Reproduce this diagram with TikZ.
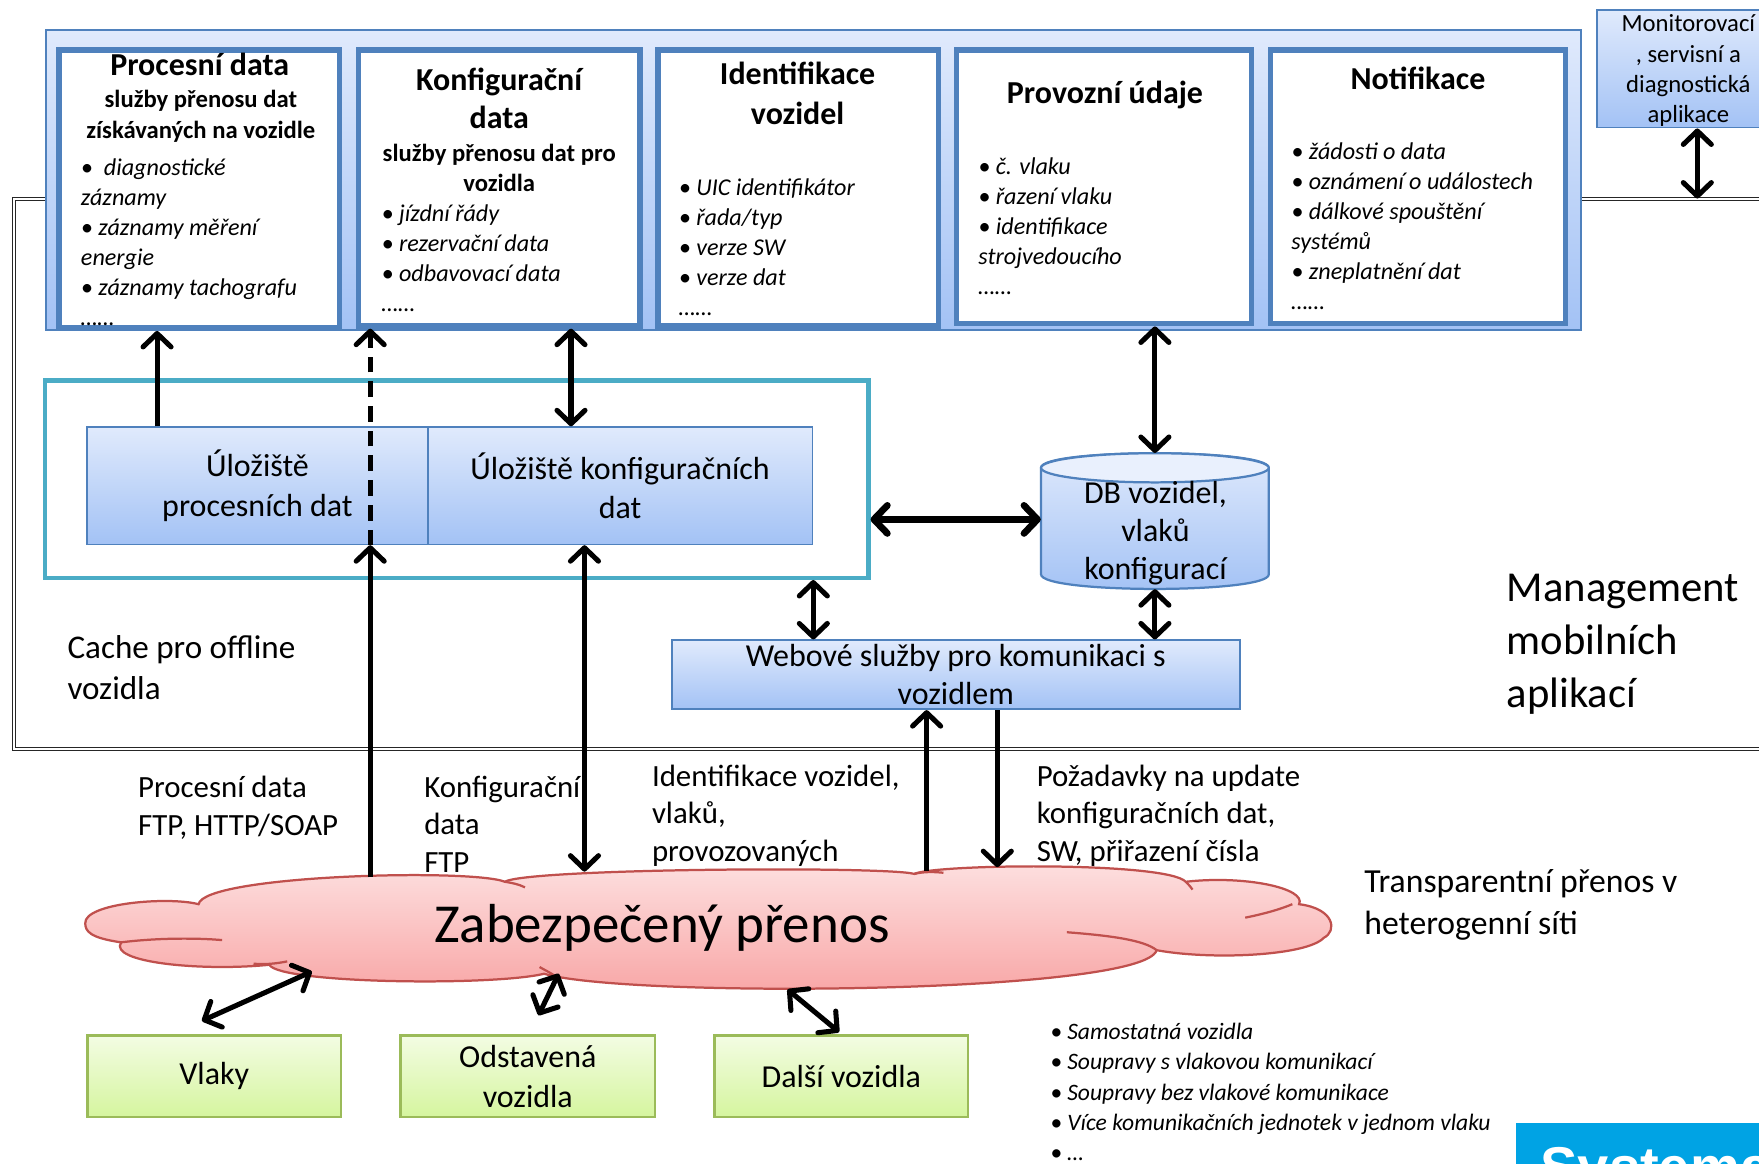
\documentclass[tikz,border=0pt]{standalone}
\usepackage{fontspec}
\setmainfont{Carlito}
\newfontfamily\logofont{Liberation Sans}
\usetikzlibrary{arrows.meta,calc}
\definecolor{bxb}{RGB}{79,129,189}
\definecolor{gtop}{RGB}{224,234,252}
\definecolor{gbot}{RGB}{163,194,245}
\definecolor{cachec}{RGB}{75,172,198}
\definecolor{cltop}{RGB}{253,224,224}
\definecolor{clbot}{RGB}{248,164,164}
\definecolor{clb}{RGB}{192,80,77}
\definecolor{grtop}{RGB}{243,252,227}
\definecolor{grbot}{RGB}{213,245,158}
\definecolor{grb}{RGB}{155,187,89}
\definecolor{logoc}{RGB}{0,163,228}
\newcommand\fsz[2]{\fontsize{#1pt}{#2pt}\selectfont}
\begin{document}
\begin{tikzpicture}[x=1pt,y=-1pt,
  blk/.style={draw=bxb, line width=1.5pt, top color=gtop, bottom color=gbot, inner sep=0, anchor=north west},
  wbox/.style={draw=bxb, line width=5pt, fill=white, inner sep=0, anchor=north west},
  grbox/.style={draw=grb, line width=2pt, top color=grtop, bottom color=grbot, inner sep=0, anchor=north west, align=center, font=\fsz{28.5}{35}},
  lbl/.style={anchor=north west, inner sep=0, align=left, font=\fsz{27.5}{33.5}},
  ttl/.style={anchor=north, inner sep=0, align=center, font=\fsz{28.5}{34.5}\bfseries},
  subt/.style={anchor=north, inner sep=0, align=center, font=\fsz{22}{27.5}\bfseries},
  itl/.style={anchor=north west, inner sep=0, align=left, font=\fsz{21.5}{26.8}\itshape},
  conn/.style={line width=4.5pt, >={Straight Barb[length=12pt,width=25pt,round]}},
  cloudarc/.style={draw=clb, line width=2pt}
]
\useasboundingbox (0,0) rectangle (1568,1037);
\begin{scope}
\clip (0,0) rectangle (1568,1037);
\fill[white] (0,0) rectangle (1568,1037);

% management frame (double line)
\node[draw=black!85, double=white, double distance=1.6pt, line width=1.2pt, minimum width=1640pt, minimum height=490pt, anchor=north west, inner sep=0] (frame) at (12,177) {};

% top panel and boxes
\node[blk, line width=2pt, minimum width=1368pt, minimum height=267pt] (panel) at (40,26) {};
\node[wbox, minimum width=250pt, minimum height=248pt] (b1) at (50,42) {};
\node[wbox, minimum width=251pt, minimum height=246pt] (b2) at (317,42) {};
\node[wbox, minimum width=250pt, minimum height=246pt] (b3) at (584,42) {};
\node[wbox, minimum width=263pt, minimum height=244pt] (b4) at (850,42) {};
\node[wbox, minimum width=263pt, minimum height=244pt] (b5) at (1130,42) {};

\node[ttl] (t1) at (178,47.5) {Procesní data};
\node[subt] (s1) at (179,80) {služby přenosu dat\\získávaných na vozidle};
\node[itl] (i1) at (72,141) {\textbullet\ \ diagnostické\\záznamy\\\textbullet\ záznamy měření\\energie\\\textbullet\ záznamy tachografu\\……};

\node[ttl] (t2) at (445,60) {Konfigurační\\data};
\node[subt] (s2) at (445,128) {služby přenosu dat pro\\vozidla};
\node[itl] (i2) at (340,182) {\textbullet\ jízdní řády\\\textbullet\ rezervační data\\\textbullet\ odbavovací data\\……};

\node[ttl, font=\fsz{28.5}{35}\bfseries] (t3) at (711,55.5) {Identifikace\\vozidel};
\node[itl] (i3) at (605,159) {\textbullet\ UIC identifikátor\\\textbullet\ řada/typ\\\textbullet\ verze SW\\\textbullet\ verze dat\\……};

\node[ttl] (t4) at (985,72.5) {Provozní údaje};
\node[itl] (i4) at (872,140) {\textbullet\ č. vlaku\\\textbullet\ řazení vlaku\\\textbullet\ identifikace\\strojvedoucího\\……};

\node[ttl] (t5) at (1264,59.5) {Notifikace};
\node[itl] (i5) at (1151,127) {\textbullet\ žádosti o data\\\textbullet\ oznámení o událostech\\\textbullet\ dálkové spouštění\\systémů\\\textbullet\ zneplatnění dat\\……};

% monitoring application
\node[blk, minimum width=170pt, minimum height=105pt] (mon) at (1423,8) {};
\node[anchor=north, inner sep=0, align=center, font=\fsz{22}{27}] (mont) at (1505,13) {Monitorovací\\, servisní a\\diagnostická\\aplikace};

% cache
\node[draw=cachec, line width=4pt, minimum width=734pt, minimum height=176pt, anchor=north west, inner sep=0] (cache) at (38,337) {};
\node[blk, minimum width=303.5pt, minimum height=104.5pt, align=center, font=\fsz{28.5}{35}] (u1) at (77,380) {Úložiště\\procesních dat};
\node[blk, minimum width=343pt, minimum height=104.5pt, align=center, font=\fsz{28.5}{35}] (u2) at (380.5,380) {Úložiště konfiguračních\\dat};

% database cylinder
\shade[top color=gtop, bottom color=gbot, draw=bxb, line width=2pt]
  (928,417) -- (928,512) .. controls (928,529.3) and (1131,529.3) .. (1131,512)
  -- (1131,417) .. controls (1131,399.7) and (928,399.7) .. (928,417) -- cycle;
\draw[draw=bxb, line width=2pt, fill=gtop!70!white] (1029.5,417) ellipse [x radius=101.5, y radius=13];
\node[inner sep=0, minimum width=203pt, minimum height=121pt] (db) at (1029.5,464.5) {};
\node[inner sep=0, align=center, font=\fsz{28.5}{34}] (dbt) at (1030,475) {DB vozidel,\\vlaků\\konfigurací};

% web services
\node[blk, minimum width=506.5pt, minimum height=61.5pt, align=center, font=\fsz{28.5}{34}] (web) at (598,570) {Webové služby pro komunikaci s\\vozidlem};

% labels inside frame
\node[lbl, font=\fsz{29.5}{37}] (cachel) at (60,566) {Cache pro offline\\vozidla};
\node[lbl, font=\fsz{38}{47}] (mgmt) at (1343,512) {Management\\mobilních\\aplikací};

% cloud
\shade[top color=cltop, bottom color=clbot, draw=clb, line width=2pt]
  (76,823)
  .. controls (75,805) and (150,799) .. (177,806)
  .. controls (182,780) and (420,774) .. (450,786)
  .. controls (470,774) and (790,772) .. (815,779)
  .. controls (835,770) and (1040,768) .. (1057,786)
  .. controls (1110,780) and (1165,792) .. (1158,806)
  .. controls (1190,810) and (1192,830) .. (1180,836)
  .. controls (1165,852) and (1080,856) .. (1031,847)
  .. controls (1020,886) and (560,890) .. (485,868)
  .. controls (440,879) and (250,877) .. (240,860)
  .. controls (180,866) and (96,858) .. (108,840)
  .. controls (80,836) and (76,830) .. (76,823) -- cycle;
\draw[cloudarc] (108,840) .. controls (140,836) and (175,836) .. (198,838);
\draw[cloudarc] (226,859) .. controls (236,860) and (246,859) .. (256,857);
\draw[cloudarc] (450,786) .. controls (456,787) and (462,788) .. (468,791);
\draw[cloudarc] (481,862) .. controls (486,865) and (491,867) .. (496,871);
\draw[cloudarc] (815,779) .. controls (823,777) and (832,777) .. (841,778);
\draw[cloudarc] (1057,786) .. controls (1059,788) and (1061,790) .. (1063,793);
\draw[cloudarc] (1110,818) .. controls (1125,815) and (1140,811) .. (1152,806);
\draw[cloudarc] (951,831) .. controls (990,834) and (1020,838) .. (1031,847);
\node[inner sep=0, font=\fsz{49}{58}] (cloudt) at (590,827) {Zabezpečený přenos};

\coordinate (cA2) at (330,782);
\coordinate (cA4) at (521,777);
\coordinate (cA9) at (826,776);
\coordinate (cA10) at (889,773);
\coordinate (cV) at (278,866);
\coordinate (vV) at (180,910);
\coordinate (cO) at (498,868);
\coordinate (oO) at (480,905);
\coordinate (cD) at (702,882);
\coordinate (dD) at (748,920);

% vehicle boxes
\node[grbox, minimum width=226pt, minimum height=73pt] (vlaky) at (77,922) {Vlaky};
\node[grbox, minimum width=227pt, minimum height=73pt] (odst) at (356,922) {Odstavená\\vozidla};
\node[grbox, minimum width=226pt, minimum height=73pt] (dalsi) at (636,922) {Další vozidla};

% outside labels
\node[lbl, font=\fsz{27.5}{34}] (l1) at (123,691.5) {Procesní data\\FTP, HTTP/SOAP};
\node[lbl] (l2) at (378,691.5) {Konfigurační\\data\\FTP};
\node[lbl] (l3) at (581,681.5) {Identifikace vozidel,\\vlaků,\\provozovaných};
\node[lbl] (l4) at (924,681.5) {Požadavky na update\\konfiguračních dat,\\SW, přiřazení čísla};
\node[lbl, font=\fsz{30}{37}] (l5) at (1216,775) {Transparentní přenos v\\heterogenní síti};
\node[itl, font=\fsz{21}{27}\itshape] (l6) at (936,912) {\textbullet\ Samostatná vozidla\\\textbullet\ Soupravy s vlakovou komunikací\\\textbullet\ Soupravy bez vlakové komunikace\\\textbullet\ Více komunikačních jednotek v jednom vlaku\\\textbullet\ …};

% connectors
\draw[conn,->] (140,0 |- u1.north) -- (140,0 |- b1.south);
\draw[conn,->] (cA2) -- (cA2 |- u1.south);
\draw[conn,->,dash pattern=on 14pt off 8pt] (cA2 |- u1.south) -- (cA2 |- b2.south);
\draw[conn,<->] (509,0 |- b2.south) -- (509,0 |- u2.north);
\draw[conn,<->] (cA4 |- u2.south) -- (cA4);
\draw[conn,<->,line width=6pt] (cache.east |- 0,463) -- (db.west |- 0,463);
\draw[conn,<->] (db.north |- b4.south) -- (db.north);
\draw[conn,<->] (725,0 |- cache.south) -- (725,0 |- web.north);
\draw[conn,<->] (db.south) -- (db.south |- web.north);
\draw[conn,->] (cA9) -- (cA9 |- web.south);
\draw[conn,->] (cA10 |- web.south) -- (cA10);
\draw[conn,<->] (vV) -- (cV);
\draw[conn,<->] (oO) -- (cO);
\draw[conn,<->] (cD) -- (dD);
\draw[conn,<->] (mon.south -| 1513,0) -- (frame.north -| 1513,0);

% logo fragment
\node[fill=logoc, anchor=north west, minimum width=260pt, minimum height=60pt, inner sep=0] (logobg) at (1351,1001) {};
\node[anchor=base west, inner sep=0, text=white, font=\logofont\fsz{50}{60}\bfseries] (logo) at (1373,1058) {Systema};
\end{scope}
\end{tikzpicture}
\end{document}
